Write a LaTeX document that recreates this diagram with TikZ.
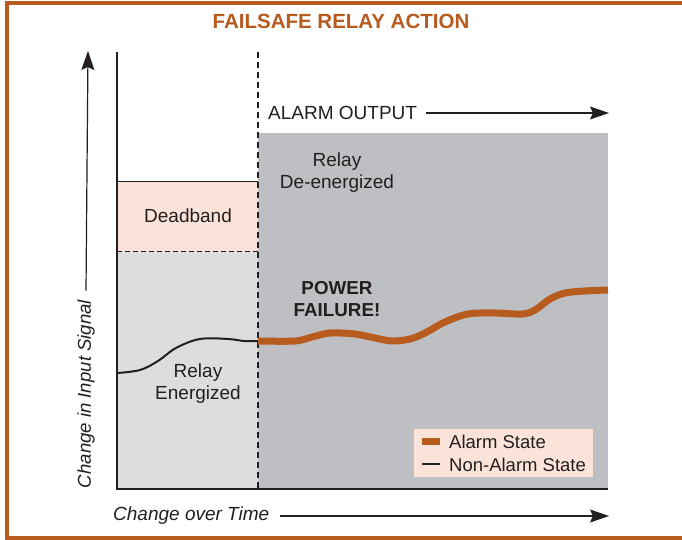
\documentclass[tikz,border=0pt]{standalone}
\usepackage{fontspec}
\setmainfont{Liberation Sans}
\usetikzlibrary{arrows.meta}

\definecolor{rustorange}{HTML}{B85B1E}
\definecolor{bandpink}{HTML}{FBE3DA}
\definecolor{lightgrey}{HTML}{DCDDDF}
\definecolor{darkgrey}{HTML}{BEBFC3}
\definecolor{inkblack}{HTML}{231F20}

\tikzset{
  label text/.style={text=inkblack, font=\fontsize{19}{22}\selectfont, align=center, inner sep=0pt},
  axis arrow/.style={draw=inkblack, line width=1.2pt, -{Stealth[length=19pt,width=13pt,inset=3pt]}},
  axis line/.style={draw=inkblack, line width=1.6pt},
  alarm curve/.style={draw=rustorange, line width=7pt},
  normal curve/.style={draw=inkblack, line width=2pt}
}

\begin{document}
\begin{tikzpicture}[x=1pt, y=-1pt]
    \useasboundingbox (0,0) rectangle (682,540);
    \clip (0,0) rectangle (682,540);
    \fill[white] (0,0) rectangle (682,540);
    \draw[rustorange, line width=3.5pt] (7,3) rectangle (700,538);

    \node[text=rustorange, font=\fontsize{20.5}{24}\selectfont\bfseries] (title) at (341,21) {FAILSAFE RELAY ACTION};

    \fill[bandpink] (117,182) rectangle (258,251);
    \fill[lightgrey] (117,251) rectangle (258,489);
    \fill[darkgrey] (258,133) rectangle (608,489);
    \draw[inkblack, line width=1pt] (117,182) -- (258,182);
    \draw[inkblack, line width=1pt, dash pattern=on 5pt off 3pt] (117,251) -- (258,251);

    \coordinate (origin) at (117,489);
    \coordinate (ytop) at (117,52);
    \coordinate (xend) at (608,489);
    \draw[axis line] (ytop) -- (origin) -- (xend);
    \draw[inkblack, line width=2.8pt, dash pattern=on 6pt off 4pt] (258,52) -- (258,489);

    \node[label text, anchor=west] (alarmout) at (268,113) {ALARM OUTPUT};
    \coordinate (alarmend) at (609,113);
    \draw[axis arrow] ([xshift=9pt]alarmout.east) -- (alarmend);

    \node[label text] (deenerg) at (337,173) {Relay\\De-energized};
    \node[label text] (deadband) at (188,216) {Deadband};
    \node[label text, font=\fontsize{18.8}{22}\selectfont\bfseries] (failure) at (337,299) {POWER\\FAILURE!};
    \node[label text] (energ) at (198,384) {Relay\\Energized};

    \draw[normal curve] plot[smooth, tension=0.6] coordinates {(117,373) (140,370) (158,361) (176,348) (200,339) (228,339) (244,341) (258,341)};
    \draw[alarm curve] plot[smooth, tension=0.55] coordinates {(258,341) (295,341) (312,337) (330,333) (355,334) (375,338) (392,341) (410,339) (425,333) (445,322) (468,314) (495,313) (522,314) (535,310) (550,299) (565,293) (585,291) (608,290)};

    \node[fill=bandpink, minimum width=179pt, minimum height=48pt, inner sep=0pt] (legend) at (503.5,453) {};
    \fill[rustorange] (422,438) rectangle (440,445);
    \node[label text, font=\fontsize{18.5}{22}\selectfont, anchor=west] (alarmkey) at (449,442) {Alarm State};
    \draw[inkblack, line width=1.5pt] (422,464) -- (440,464);
    \node[label text, font=\fontsize{18.5}{22}\selectfont, anchor=west] (normalkey) at (449,465) {Non-Alarm State};

    \node[label text, font=\fontsize{18.6}{22}\selectfont\itshape, rotate=90] (ylabel) at (86,394) {Change in Input Signal};
    \coordinate (yaxtop) at (88,51);
    \draw[axis arrow] ([yshift=9pt]ylabel.east) -- (yaxtop);

    \node[label text, font=\fontsize{19}{22}\selectfont\itshape, anchor=west] (xlabel) at (113,516) {Change over Time};
    \coordinate (xaxend) at (609,516);
    \draw[axis arrow] ([xshift=10pt]xlabel.east) -- (xaxend);
\end{tikzpicture}
\end{document}
